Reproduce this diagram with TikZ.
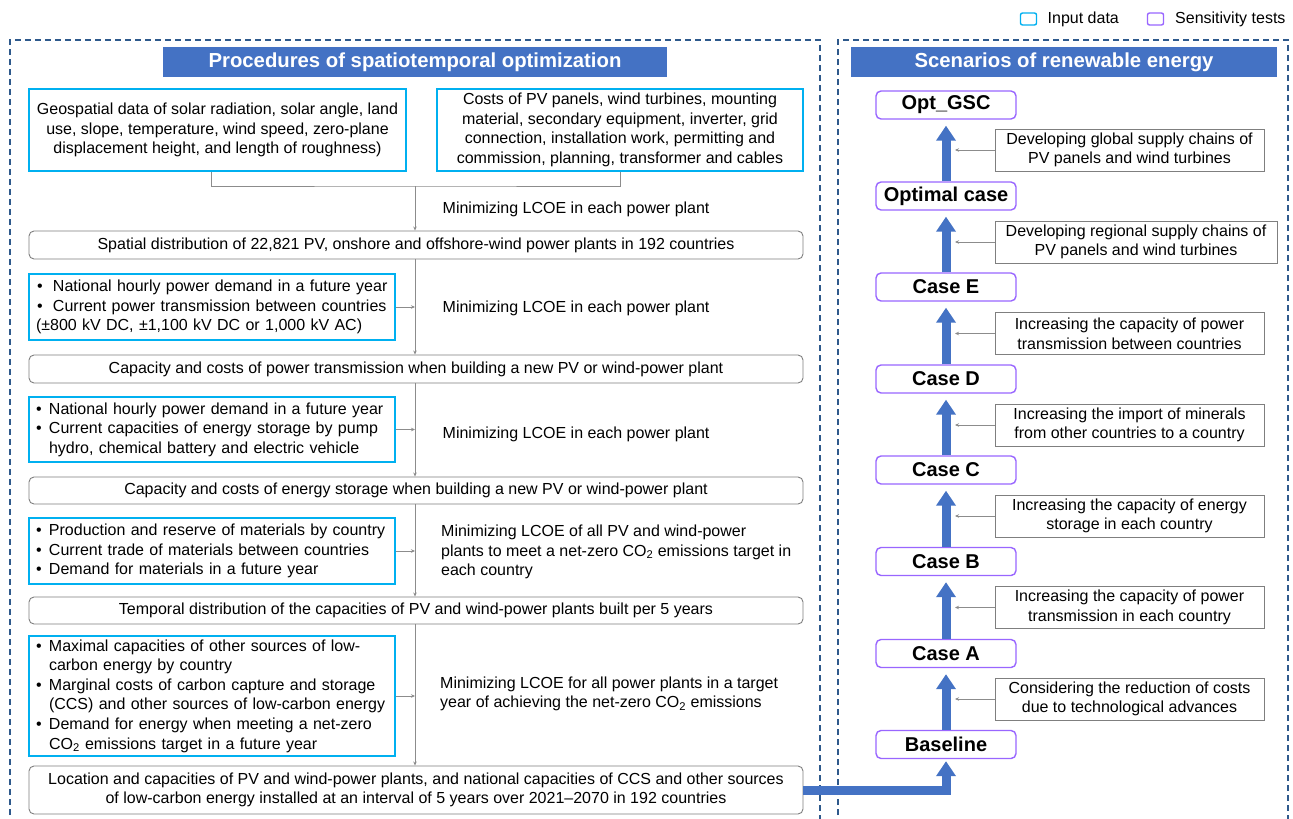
\documentclass[tikz,border=0pt]{standalone}
\usepackage{fontspec}
\setmainfont{Liberation Sans}
\usetikzlibrary{arrows.meta}
\definecolor{hdrblue}{RGB}{68,114,196}
\definecolor{incyan}{RGB}{0,176,240}
\definecolor{senspurple}{RGB}{153,102,255}
\definecolor{framecol}{RGB}{46,89,140}
\definecolor{linegray}{RGB}{127,127,127}
\definecolor{conngray}{RGB}{140,140,140}
\newcommand\myb[1]{\makebox[13pt][l]{•}#1}
\newcommand\mybw[1]{\mbox{\hspace*{1pt}\makebox[16pt][l]{•}#1}}
\newcommand\myc[1]{\hspace*{13pt}#1}
\begin{document}
\begin{tikzpicture}[x=1pt,y=-1pt,
  every node/.style={font=\fontsize{16}{19.6}\selectfont, inner sep=0pt, text=black},
  inbox/.style={draw=incyan, line width=1.6pt, align=center},
  inlist/.style={draw=incyan, line width=1.6pt, align=left, text width=352pt, inner xsep=7pt, minimum width=366pt},
  procbox/.style={draw=linegray, line width=0.9pt, rounded corners=5pt, align=center, minimum width=774pt},
  scen/.style={draw=senspurple, line width=1.4pt, rounded corners=5pt, minimum width=140pt, minimum height=28pt, font=\fontsize{20}{24}\selectfont\bfseries},
  lbl/.style={draw=linegray, line width=0.9pt, align=center, minimum height=42pt, font=\fontsize{16}{19.6}\selectfont},
  hdr/.style={fill=hdrblue, minimum height=30pt, text=white, font=\fontsize{20.3}{24}\selectfont\bfseries},
  legbox/.style={line width=1.4pt, rounded corners=2pt, minimum width=16pt, minimum height=12pt},
  frame/.style={draw=framecol, line width=1.1pt, dash pattern=on 6pt off 4pt},
  conn/.style={draw=conngray, line width=0.8pt},
  tip/.style={-{Stealth[length=4pt,width=3.5pt]}},
  bigarrow/.style={draw=hdrblue, line width=9pt, -{Triangle[length=15pt,width=19pt]}},
  minlbl/.style={anchor=west, align=left}
]
\useasboundingbox (0,0) rectangle (1293,819);
\fill[white] (0,0) rectangle (1293,819);

% legend
\node[legbox, draw=incyan] (lg1) at (1028.5,19) {};
\node[anchor=west] (lg1t) at (1047.5,19) {Input data};
\node[legbox, draw=senspurple] (lg2) at (1155.5,19) {};
\node[anchor=west] (lg2t) at (1175,19) {Sensitivity tests};

% frames
\draw[frame] (10,835) -- (10,40) -- (820,40) -- (820,835);
\draw[frame] (838,835) -- (838,40) -- (1288,40) -- (1288,835);

% headers
\node[hdr, minimum width=504pt] (h1) at (415,62) {Procedures of spatiotemporal optimization};
\node[hdr, minimum width=426pt] (h2) at (1064,62) {Scenarios of renewable energy};

% top input boxes
\node[inbox, minimum width=377pt, minimum height=82pt] (geo) at (217.5,130)
  {Geospatial data of solar radiation, solar angle, land\\use, slope, temperature, wind speed, zero-plane\\displacement height, and length of roughness)};
\node[inbox, minimum width=366pt, minimum height=82pt] (cost) at (620,130)
  {Costs of PV panels, wind turbines, mounting\\material, secondary equipment, inverter, grid\\connection, installation work, permitting and\\commission, planning, transformer and cables};

% process boxes
\node[procbox, minimum height=28pt] (spatial) at (416,245)
  {Spatial distribution of 22,821 PV, onshore and offshore-wind power plants in 192 countries};
\node[procbox, minimum height=28pt] (transm) at (416,369)
  {Capacity and costs of power transmission when building a new PV or wind-power plant};
\node[procbox, minimum height=27pt] (storage) at (416,490.5)
  {Capacity and costs of energy storage when building a new PV or wind-power plant};
\node[procbox, minimum height=27pt] (temporal) at (416,610.5)
  {Temporal distribution of the capacities of PV and wind-power plants built per 5 years};
\node[procbox, minimum height=48pt] (final) at (416,790)
  {Location and capacities of PV and wind-power plants, and national capacities of CCS and other sources\\of low-carbon energy installed at an interval of 5 years over 2021--2070 in 192 countries};

% list input boxes
\node[inlist, minimum height=66pt] (in2) at (212,307)
  {\mybw{National hourly power demand in a future year}\\\mybw{Current power transmission between countries}\\\mbox{(±800 kV DC, ±1,100 kV DC or 1,000 kV AC)}};
\node[inlist, minimum height=65pt] (in3) at (212,429.5)
  {\myb{National hourly power demand in a future year}\\\myb{Current capacities of energy storage by pump}\\\myc{hydro, chemical battery and electric vehicle}};
\node[inlist, minimum height=66pt] (in4) at (212,551)
  {\myb{Production and reserve of materials by country}\\\myb{Current trade of materials between countries}\\\myb{Demand for materials in a future year}};
\node[inlist, minimum height=120pt] (in5) at (212,696)
  {\myb{Maximal capacities of other sources of low-}\\\myc{carbon energy by country}\\\myb{Marginal costs of carbon capture and storage}\\\myc{(CCS) and other sources of low-carbon energy}\\\myb{Demand for energy when meeting a net-zero}\\\myc{CO\textsubscript{2} emissions target in a future year}};

% minimizing labels
\node[minlbl] (m1) at (442.5,209) {Minimizing LCOE in each power plant};
\node[minlbl] (m2) at (442.5,308) {Minimizing LCOE in each power plant};
\node[minlbl] (m3) at (442.5,434) {Minimizing LCOE in each power plant};
\node[minlbl] (m4) at (441,552) {Minimizing LCOE of all PV and wind-power\\plants to meet a net-zero CO\textsubscript{2} emissions target in\\each country};
\node[minlbl] (m5) at (440,694) {Minimizing LCOE for all power plants in a target\\year of achieving the net-zero CO\textsubscript{2} emissions};

% connectors (left)
\coordinate (j1) at (415,186);
\draw[conn] ([xshift=-6pt]geo.south) |- (j1) -| (cost.south);
\draw[conn, tip] (j1) -- (spatial.north -| j1);
\draw[conn, tip] (spatial.south -| j1) -- (transm.north -| j1);
\draw[conn, tip] (transm.south -| j1) -- (storage.north -| j1);
\draw[conn, tip] (storage.south -| j1) -- (temporal.north -| j1);
\draw[conn, tip] (temporal.south -| j1) -- (final.north -| j1);
\draw[conn, tip] (in2.east) -- (in2.east -| j1);
\draw[conn, tip] (in3.east) -- (in3.east -| j1);
\draw[conn, tip] (in4.east) -- (in4.east -| j1);
\draw[conn, tip] (in5.east) -- (in5.east -| j1);

% scenarios
\node[scen] (gsc) at (946,105) {Opt\_GSC};
\node[scen] (opt) at (946,196) {Optimal case};
\node[scen] (ce) at (946,287) {Case E};
\node[scen] (cd) at (946,379) {Case D};
\node[scen] (cc) at (946,470) {Case C};
\node[scen] (cb) at (946,561.5) {Case B};
\node[scen] (ca) at (946,653.5) {Case A};
\node[scen] (base) at (946,744.5) {Baseline};

\node[lbl, minimum width=269pt] (l1) at (1129.5,150) {Developing global supply chains of\\PV panels and wind turbines};
\node[lbl, minimum width=282pt] (l2) at (1136,242) {Developing regional supply chains of\\PV panels and wind turbines};
\node[lbl, minimum width=269pt] (l3) at (1129.5,333.5) {Increasing the capacity of power\\transmission between countries};
\node[lbl, minimum width=269pt] (l4) at (1129.5,425) {Increasing the import of minerals\\from other countries to a country};
\node[lbl, minimum width=269pt] (l5) at (1129.5,516) {Increasing the capacity of energy\\storage in each country};
\node[lbl, minimum width=269pt] (l6) at (1129.5,607.5) {Increasing the capacity of power\\transmission in each country};
\node[lbl, minimum width=269pt] (l7) at (1129.5,699) {Considering the reduction of costs\\due to technological advances};

% big arrows
\draw[bigarrow, shorten >=6pt] (opt.north) -- (gsc.south);
\draw[bigarrow, shorten >=6pt] (ce.north) -- (opt.south);
\draw[bigarrow, shorten >=6pt] (cd.north) -- (ce.south);
\draw[bigarrow, shorten >=6pt] (cc.north) -- (cd.south);
\draw[bigarrow, shorten >=6pt] (cb.north) -- (cc.south);
\draw[bigarrow, shorten >=6pt] (ca.north) -- (cb.south);
\draw[bigarrow, shorten >=6pt] (base.north) -- (ca.south);
\draw[bigarrow, shorten >=2pt, line join=miter] (final.east) -| (base.south);

% thin arrows to big arrows
\coordinate (ax) at (955,0);
\draw[conn, tip] (l1.west) -- (l1.west -| ax);
\draw[conn, tip] (l2.west) -- (l2.west -| ax);
\draw[conn, tip] (l3.west) -- (l3.west -| ax);
\draw[conn, tip] (l4.west) -- (l4.west -| ax);
\draw[conn, tip] (l5.west) -- (l5.west -| ax);
\draw[conn, tip] (l6.west) -- (l6.west -| ax);
\draw[conn, tip] (l7.west) -- (l7.west -| ax);
\end{tikzpicture}
\end{document}
